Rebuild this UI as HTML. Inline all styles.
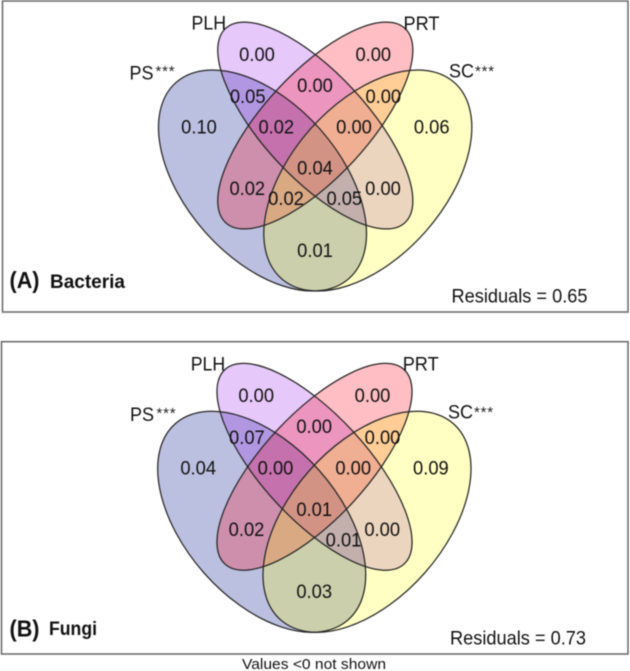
<!DOCTYPE html>
<html>
<head>
<meta charset="utf-8">
<title>Variation partitioning Venn diagrams</title>
<style>
html,body{margin:0;padding:0;background:#fff;}
svg{display:block;font-family:"Liberation Sans",sans-serif;}
.soft{filter:blur(0.4px);}
.val,.lab,.res{font-size:19.5px;fill:#111;}
.val{text-anchor:middle;}
.stars{font-size:15px;fill:#222;letter-spacing:0.8px;}
.tag{font-weight:bold;fill:#111;}
.edge{fill:none;stroke:#262626;stroke-width:1.25;}
.f-ps{fill:rgb(32,45,152);fill-opacity:.3;}
.f-plh{fill:rgb(141,5,232);fill-opacity:.22;}
.f-prt{fill:rgb(255,5,24);fill-opacity:.26;}
.f-sc{fill:rgb(255,255,5);fill-opacity:.24;}
</style>
</head>
<body>
<svg id="chart" xmlns="http://www.w3.org/2000/svg" width="630" height="671" viewBox="0 0 630 671">
<g class="soft">
  <g id="panel-a">
    <rect x="2.5" y="1" width="625.5" height="311" fill="#fff" stroke="#666" stroke-width="1.5"/>
    <ellipse class="f-ps" cx="262.5" cy="180.5" rx="130.7" ry="77.1" transform="rotate(48.6 262.5 180.5)"/>
    <ellipse class="f-plh" cx="315.3" cy="125.5" rx="132.2" ry="52.3" transform="rotate(47.3 315.3 125.5)"/>
    <ellipse class="f-prt" cx="315.3" cy="125.5" rx="132.2" ry="52.3" transform="rotate(-47.3 315.3 125.5)"/>
    <ellipse class="f-sc" cx="367.8" cy="180.5" rx="130.7" ry="77.1" transform="rotate(-48.6 367.8 180.5)"/>
    <ellipse class="edge" cx="262.5" cy="180.5" rx="130.7" ry="77.1" transform="rotate(48.6 262.5 180.5)"/>
    <ellipse class="edge" cx="315.3" cy="125.5" rx="132.2" ry="52.3" transform="rotate(47.3 315.3 125.5)"/>
    <ellipse class="edge" cx="315.3" cy="125.5" rx="132.2" ry="52.3" transform="rotate(-47.3 315.3 125.5)"/>
    <ellipse class="edge" cx="367.8" cy="180.5" rx="130.7" ry="77.1" transform="rotate(-48.6 367.8 180.5)"/>
    <text class="lab" x="191.5" y="29.5" textLength="34.5" lengthAdjust="spacingAndGlyphs">PLH</text>
    <text class="lab" x="403.5" y="30" textLength="36" lengthAdjust="spacingAndGlyphs">PRT</text>
    <text class="lab" x="129.5" y="79.5" textLength="24" lengthAdjust="spacingAndGlyphs">PS</text>
    <text class="stars" x="155.5" y="76">***</text>
    <text class="lab" x="449" y="77.5" textLength="25" lengthAdjust="spacingAndGlyphs">SC</text>
    <text class="stars" x="475" y="76">***</text>
    <text class="res" x="451.5" y="302.5" textLength="136" lengthAdjust="spacingAndGlyphs">Residuals = 0.65</text>
    <text class="tag" x="9.5" y="288" font-size="23" textLength="30" lengthAdjust="spacingAndGlyphs">(A)</text>
    <text class="tag" x="50" y="288" font-size="19" textLength="75" lengthAdjust="spacingAndGlyphs">Bacteria</text>
  </g>
  <g id="panel-b">
    <rect x="1.5" y="341.7" width="626.5" height="312.3" fill="#fff" stroke="#666" stroke-width="1.5"/>
    <ellipse class="f-ps" cx="261.7" cy="521.8" rx="130.7" ry="77.1" transform="rotate(48.6 261.7 521.8)"/>
    <ellipse class="f-plh" cx="314.5" cy="466.8" rx="132.2" ry="52.3" transform="rotate(47.3 314.5 466.8)"/>
    <ellipse class="f-prt" cx="314.5" cy="466.8" rx="132.2" ry="52.3" transform="rotate(-47.3 314.5 466.8)"/>
    <ellipse class="f-sc" cx="367" cy="521.8" rx="130.7" ry="77.1" transform="rotate(-48.6 367 521.8)"/>
    <ellipse class="edge" cx="261.7" cy="521.8" rx="130.7" ry="77.1" transform="rotate(48.6 261.7 521.8)"/>
    <ellipse class="edge" cx="314.5" cy="466.8" rx="132.2" ry="52.3" transform="rotate(47.3 314.5 466.8)"/>
    <ellipse class="edge" cx="314.5" cy="466.8" rx="132.2" ry="52.3" transform="rotate(-47.3 314.5 466.8)"/>
    <ellipse class="edge" cx="367" cy="521.8" rx="130.7" ry="77.1" transform="rotate(-48.6 367 521.8)"/>
    <text class="lab" x="190.7" y="370.7" textLength="34.5" lengthAdjust="spacingAndGlyphs">PLH</text>
    <text class="lab" x="402.7" y="370.7" textLength="36" lengthAdjust="spacingAndGlyphs">PRT</text>
    <text class="lab" x="130" y="421" textLength="24" lengthAdjust="spacingAndGlyphs">PS</text>
    <text class="stars" x="156.5" y="418">***</text>
    <text class="lab" x="448" y="418.5" textLength="25" lengthAdjust="spacingAndGlyphs">SC</text>
    <text class="stars" x="474" y="417">***</text>
    <text class="res" x="450" y="644.5" textLength="136" lengthAdjust="spacingAndGlyphs">Residuals = 0.73</text>
    <text class="tag" x="9.5" y="636.5" font-size="23" textLength="30" lengthAdjust="spacingAndGlyphs">(B)</text>
    <text class="tag" x="49" y="635" font-size="19" textLength="48" lengthAdjust="spacingAndGlyphs">Fungi</text>
  </g>
  <text x="242" y="669" font-size="15" fill="#111" textLength="144" lengthAdjust="spacingAndGlyphs">Values &lt;0 not shown</text>
</g>
</svg>
<script>
// Region order shared by both value arrays.
const regions = ['plh', 'prt', 'ps', 'sc', 'ps-plh', 'plh-prt', 'prt-sc', 'ps-plh-prt', 'plh-prt-sc', 'ps-prt', 'plh-sc', 'all', 'ps-prt-sc', 'ps-plh-sc', 'ps-sc'];
const bacteriaValues = [0.00, 0.00, 0.10, 0.06, 0.05, 0.00, 0.00, 0.02, 0.00, 0.02, 0.00, 0.04, 0.02, 0.05, 0.01];
const fungiValues = [0.00, 0.00, 0.04, 0.09, 0.07, 0.00, 0.00, 0.00, 0.00, 0.02, 0.00, 0.01, null, 0.01, 0.03];

// Fixed Venn geometry: where each region's label sits, relative to panel A.
function regionAnchor(region) {
  switch (region) {
    case 'plh': return [257, 54];
    case 'prt': return [373.3, 54];
    case 'ps': return [199, 126.5];
    case 'sc': return [431.7, 126.5];
    case 'ps-plh': return [247.7, 96];
    case 'plh-prt': return [315, 85];
    case 'prt-sc': return [383.3, 96];
    case 'ps-plh-prt': return [276.3, 126.5];
    case 'plh-prt-sc': return [354, 126.5];
    case 'ps-prt': return [247.3, 188];
    case 'plh-sc': return [383, 188];
    case 'all': return [315, 167.7];
    case 'ps-prt-sc': return [286, 198.3];
    case 'ps-plh-sc': return [344.3, 198.3];
    default: return [315, 250];
  }
}

function drawValues(panelId, values, dx, dy) {
  const panel = document.getElementById(panelId);
  regions.forEach(function (region, i) {
    if (values[i] === null) return;
    const pos = regionAnchor(region);
    const t = document.createElementNS('http://www.w3.org/2000/svg', 'text');
    t.setAttribute('class', 'val');
    t.setAttribute('x', pos[0] + dx);
    t.setAttribute('y', pos[1] + dy + 6.9);
    t.setAttribute('textLength', '35.7');
    t.setAttribute('lengthAdjust', 'spacingAndGlyphs');
    t.textContent = values[i].toFixed(2);
    
    
    panel.appendChild(t);
  });
}

drawValues('panel-a', bacteriaValues, 0, 0);
drawValues('panel-b', fungiValues, -0.8, 341.3);
</script>
</body>
</html>
